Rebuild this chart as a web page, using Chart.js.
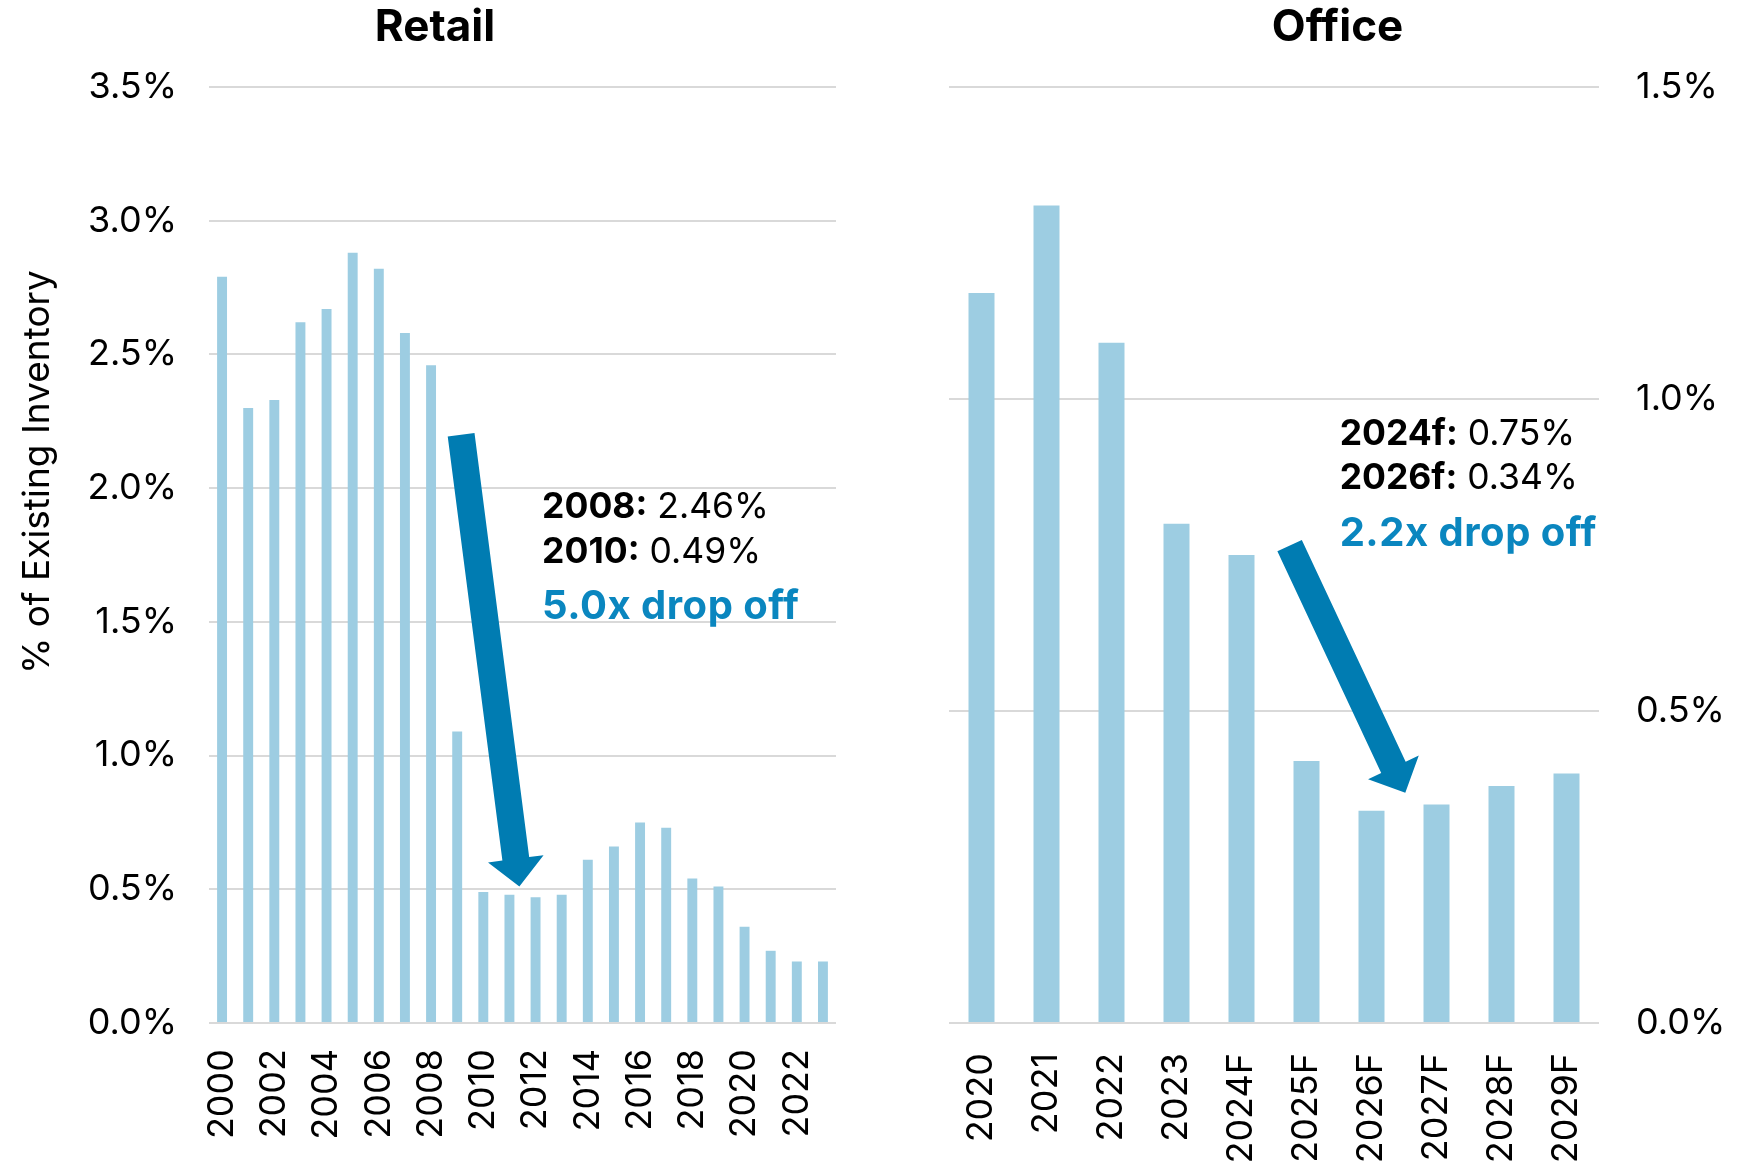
<!DOCTYPE html>
<html>
<head>
<meta charset="utf-8">
<script src="https://cdn.jsdelivr.net/npm/chart.js@4.4.1/dist/chart.umd.min.js"></script>
<style>
  html, body { margin: 0; padding: 0; background: #fff; }
  #wrap { position: relative; width: 1745px; height: 1161px; overflow: hidden; }
  .box { position: absolute; top: 0; height: 1161px; }
</style>
</head>
<body>
<div id="wrap">
  <div class="box" style="left:0;width:870px"><canvas id="retail"></canvas></div>
  <div class="box" style="left:930px;width:815px"><canvas id="office"></canvas></div>
</div>
<script>
// retail completions, % of existing inventory
const retailYears = ['2000', '2001', '2002', '2003', '2004', '2005', '2006', '2007', '2008', '2009', '2010', '2011',
  '2012', '2013', '2014', '2015', '2016', '2017', '2018', '2019', '2020', '2021', '2022', '2023'];
const retailValues = [2.79, 2.30, 2.33, 2.62, 2.67, 2.88, 2.82, 2.58, 2.46, 1.09, 0.49, 0.48,
  0.47, 0.48, 0.61, 0.66, 0.75, 0.73, 0.54, 0.51, 0.36, 0.27, 0.23, 0.23];

// office completions, actual + forecast
const officeYears = ['2020', '2021', '2022', '2023', '2024F', '2025F', '2026F', '2027F', '2028F', '2029F'];
const officeValues = [1.17, 1.31, 1.09, 0.80, 0.75, 0.42, 0.34, 0.35, 0.38, 0.40];

const retailMax = 3.5;
const officeMax = 1.5;
const tickStep = 0.5;

const FONT = 'Inter, "Liberation Sans", Arial, sans-serif';
const BAR = '#9DCDE2';
const ARROW = '#007CB2';
const BLUE_TEXT = '#0A86BF';
const GRID = '#d9d9d9';

Chart.defaults.font.family = FONT;
Chart.defaults.color = '#000';

function drawArrow(ctx, x0, y0, x1, y1, shaft, headW, headL) {
  const dx = x1 - x0, dy = y1 - y0;
  const len = Math.hypot(dx, dy);
  const ux = dx / len, uy = dy / len;
  const nx = -uy, ny = ux;
  const bx = x1 - ux * headL, by = y1 - uy * headL;
  ctx.beginPath();
  ctx.moveTo(x0 + nx * shaft / 2, y0 + ny * shaft / 2);
  ctx.lineTo(bx + nx * shaft / 2, by + ny * shaft / 2);
  ctx.lineTo(bx + nx * headW / 2, by + ny * headW / 2);
  ctx.lineTo(x1, y1);
  ctx.lineTo(bx - nx * headW / 2, by - ny * headW / 2);
  ctx.lineTo(bx - nx * shaft / 2, by - ny * shaft / 2);
  ctx.lineTo(x0 - nx * shaft / 2, y0 - ny * shaft / 2);
  ctx.closePath();
  ctx.fill();
}

// title, axis title, arrow and callout text, placed through the chart scales
const notes = {
  id: 'notes',
  afterDatasetsDraw(chart, args, o) {
    const {ctx} = chart;
    const xs = chart.scales.x, ys = chart.scales.y;
    ctx.save();
    ctx.fillStyle = '#000';
    ctx.font = `bold 44px ${FONT}`;
    ctx.textAlign = 'center';
    ctx.textBaseline = 'middle';
    ctx.fillText(o.title, chart.width / 2, 28);

    if (o.yTitle) {
      ctx.save();
      ctx.translate(38, ys.getPixelForValue(o.yTitle.at));
      ctx.rotate(-Math.PI / 2);
      ctx.font = `37px ${FONT}`;
      ctx.fillText(o.yTitle.text, 0, 0);
      ctx.restore();
    }

    ctx.fillStyle = ARROW;
    drawArrow(ctx,
      xs.getPixelForValue(o.arrow.from[0]), ys.getPixelForValue(o.arrow.from[1]),
      xs.getPixelForValue(o.arrow.to[0]), ys.getPixelForValue(o.arrow.to[1]),
      27, 56, 28);

    ctx.textAlign = 'left';
    ctx.textBaseline = 'alphabetic';
    const x = xs.getPixelForValue(o.textX);
    o.lines.forEach((ln, i) => {
      const y = ys.getPixelForValue(o.baselines[i]);
      ctx.fillStyle = '#000';
      ctx.font = `bold 35.5px ${FONT}`;
      ctx.fillText(ln[0], x, y);
      const w = ctx.measureText(ln[0]).width;
      ctx.font = `35.5px ${FONT}`;
      ctx.fillText(ln[1], x + w, y);
    });
    ctx.fillStyle = BLUE_TEXT;
    ctx.font = `bold 40px ${FONT}`;
    ctx.letterSpacing = '0.5px';
    ctx.fillText(o.drop, x, ys.getPixelForValue(o.baselines[2]));
    ctx.restore();
  }
};

function pct(v) { return v.toFixed(1) + '%'; }

new Chart(document.getElementById('retail'), {
  type: 'bar',
  data: {
    labels: retailYears,
    datasets: [{
      data: retailValues,
      backgroundColor: BAR,
      barPercentage: 0.38,
      categoryPercentage: 1.0
    }]
  },
  options: {
    responsive: true,
    maintainAspectRatio: false,
    animation: false,
    layout: { padding: { top: 87, right: 34, bottom: 0, left: 0 } },
    plugins: {
      legend: { display: false },
      tooltip: { enabled: false },
      notes: {
        title: 'Retail',
        yTitle: { text: '% of Existing Inventory', at: 2.06 },
        arrow: { from: [9.15, 2.2], to: [11.38, 0.51] },
        textX: 12.25,
        baselines: [1.89, 1.72, 1.51],
        lines: [['2008:', ' 2.46%'], ['2010:', ' 0.49%']],
        drop: '5.0x drop off'
      }
    },
    scales: {
      x: {
        grid: { display: false },
        border: { display: false },
        ticks: {
          autoSkip: false, minRotation: 90, maxRotation: 90, padding: 18,
          font: { size: 36 }, color: '#000',
          callback: (v, i) => (i % 2 === 0 ? retailYears[i] : '')
        },
        afterFit: s => { s.height = 138; s.paddingLeft = 0; s.paddingRight = 0; }
      },
      y: {
        min: 0, max: retailMax,
        grid: { color: GRID, lineWidth: 2, drawTicks: false },
        border: { display: false },
        ticks: { stepSize: tickStep, padding: 32, font: { size: 36 }, color: '#000', callback: v => pct(v) },
        afterFit: s => { s.width = 209; s.paddingTop = 0; s.paddingBottom = 0; }
      }
    }
  },
  plugins: [notes]
});

new Chart(document.getElementById('office'), {
  type: 'bar',
  data: {
    labels: officeYears,
    datasets: [{
      data: officeValues,
      backgroundColor: BAR,
      barPercentage: 0.4,
      categoryPercentage: 1.0
    }]
  },
  options: {
    responsive: true,
    maintainAspectRatio: false,
    animation: false,
    layout: { padding: { top: 87, right: 0, bottom: 0, left: 19 } },
    plugins: {
      legend: { display: false },
      tooltip: { enabled: false },
      notes: {
        title: 'Office',
        arrow: { from: [4.74, 0.765], to: [6.52, 0.369] },
        textX: 5.51,
        baselines: [0.926, 0.856, 0.764],
        lines: [['2024f:', ' 0.75%'], ['2026f:', ' 0.34%']],
        drop: '2.2x drop off'
      }
    },
    scales: {
      x: {
        grid: { display: false },
        border: { display: false },
        ticks: {
          autoSkip: false, minRotation: 90, maxRotation: 90, padding: 22,
          font: { size: 36 }, color: '#000'
        },
        afterFit: s => { s.height = 138; s.paddingLeft = 0; s.paddingRight = 0; }
      },
      y: {
        position: 'right',
        min: 0, max: officeMax,
        grid: { color: GRID, lineWidth: 2, drawTicks: false },
        border: { display: false },
        ticks: { stepSize: tickStep, padding: 37, font: { size: 36 }, color: '#000', callback: v => pct(v) },
        afterFit: s => { s.width = 146; s.paddingTop = 0; s.paddingBottom = 0; }
      }
    }
  },
  plugins: [notes]
});
</script>
</body>
</html>
